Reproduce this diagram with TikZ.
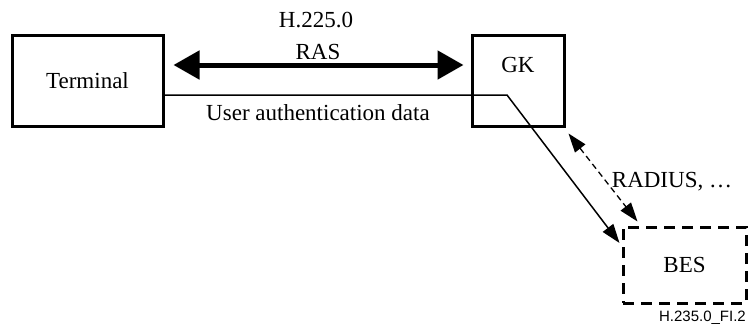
\documentclass[tikz,border=0pt]{standalone}
\usepackage{fontspec}
\setmainfont{Liberation Serif}
\newfontfamily\labelsans{Liberation Sans}
\usetikzlibrary{arrows.meta}
\begin{document}
\begin{tikzpicture}[x=1pt,y=-1pt,
  box/.style={draw,line width=3pt,inner sep=0pt},
  txt/.style={font=\fontsize{23}{26}\selectfont,inner sep=0pt},
  bigarrow/.style={line width=5pt,{Triangle[length=26pt,width=28pt]}-{Triangle[length=26pt,width=28pt]}},
  thinarrow/.style={line width=1.5pt,-{Triangle[length=19pt,width=13pt]}},
  dasharrow/.style={line width=1.3pt,dash pattern=on 6pt off 4pt,{Triangle[length=19pt,width=13pt]}-{Triangle[length=19pt,width=13pt]}}
]
\useasboundingbox (0,0) rectangle (748,327);
\node[box,minimum width=151pt,minimum height=91pt,txt] (term) at (87.5,80.5) {Terminal};
\node[box,minimum width=92pt,minimum height=91pt] (gk) at (518,80.5) {};
\node[txt] (gklabel) at (518,65) {GK};
\node[box,dash pattern=on 11pt off 7pt,minimum width=123pt,minimum height=76pt,txt] (bes) at (684.5,265) {BES};
\coordinate (bend) at (507,95);
\draw[bigarrow] ([xshift=9pt,yshift=15.5pt]term.east) -- ([xshift=-7pt,yshift=15.5pt]gk.west);
\draw[thinarrow] ([yshift=-14.5pt]term.east) -- (bend) -- ([xshift=-2pt,yshift=22pt]bes.west);
\draw[dasharrow] ([xshift=3pt,yshift=-6pt]gk.south east) -- ([xshift=16pt,yshift=4pt]bes.north west);
\node[txt] (h225) at (316,20) {H.225.0};
\node[txt] (ras) at (318,52) {RAS};
\node[txt] (uad) at (318,113) {User authentication data};
\node[txt] (radius) at (672,182) {RADIUS, \ldots};
\node[inner sep=0pt,anchor=east,font=\labelsans\fontsize{15}{17}\selectfont] (fig) at (746,318) {H.235.0\_FI.2};
\end{tikzpicture}
\end{document}
